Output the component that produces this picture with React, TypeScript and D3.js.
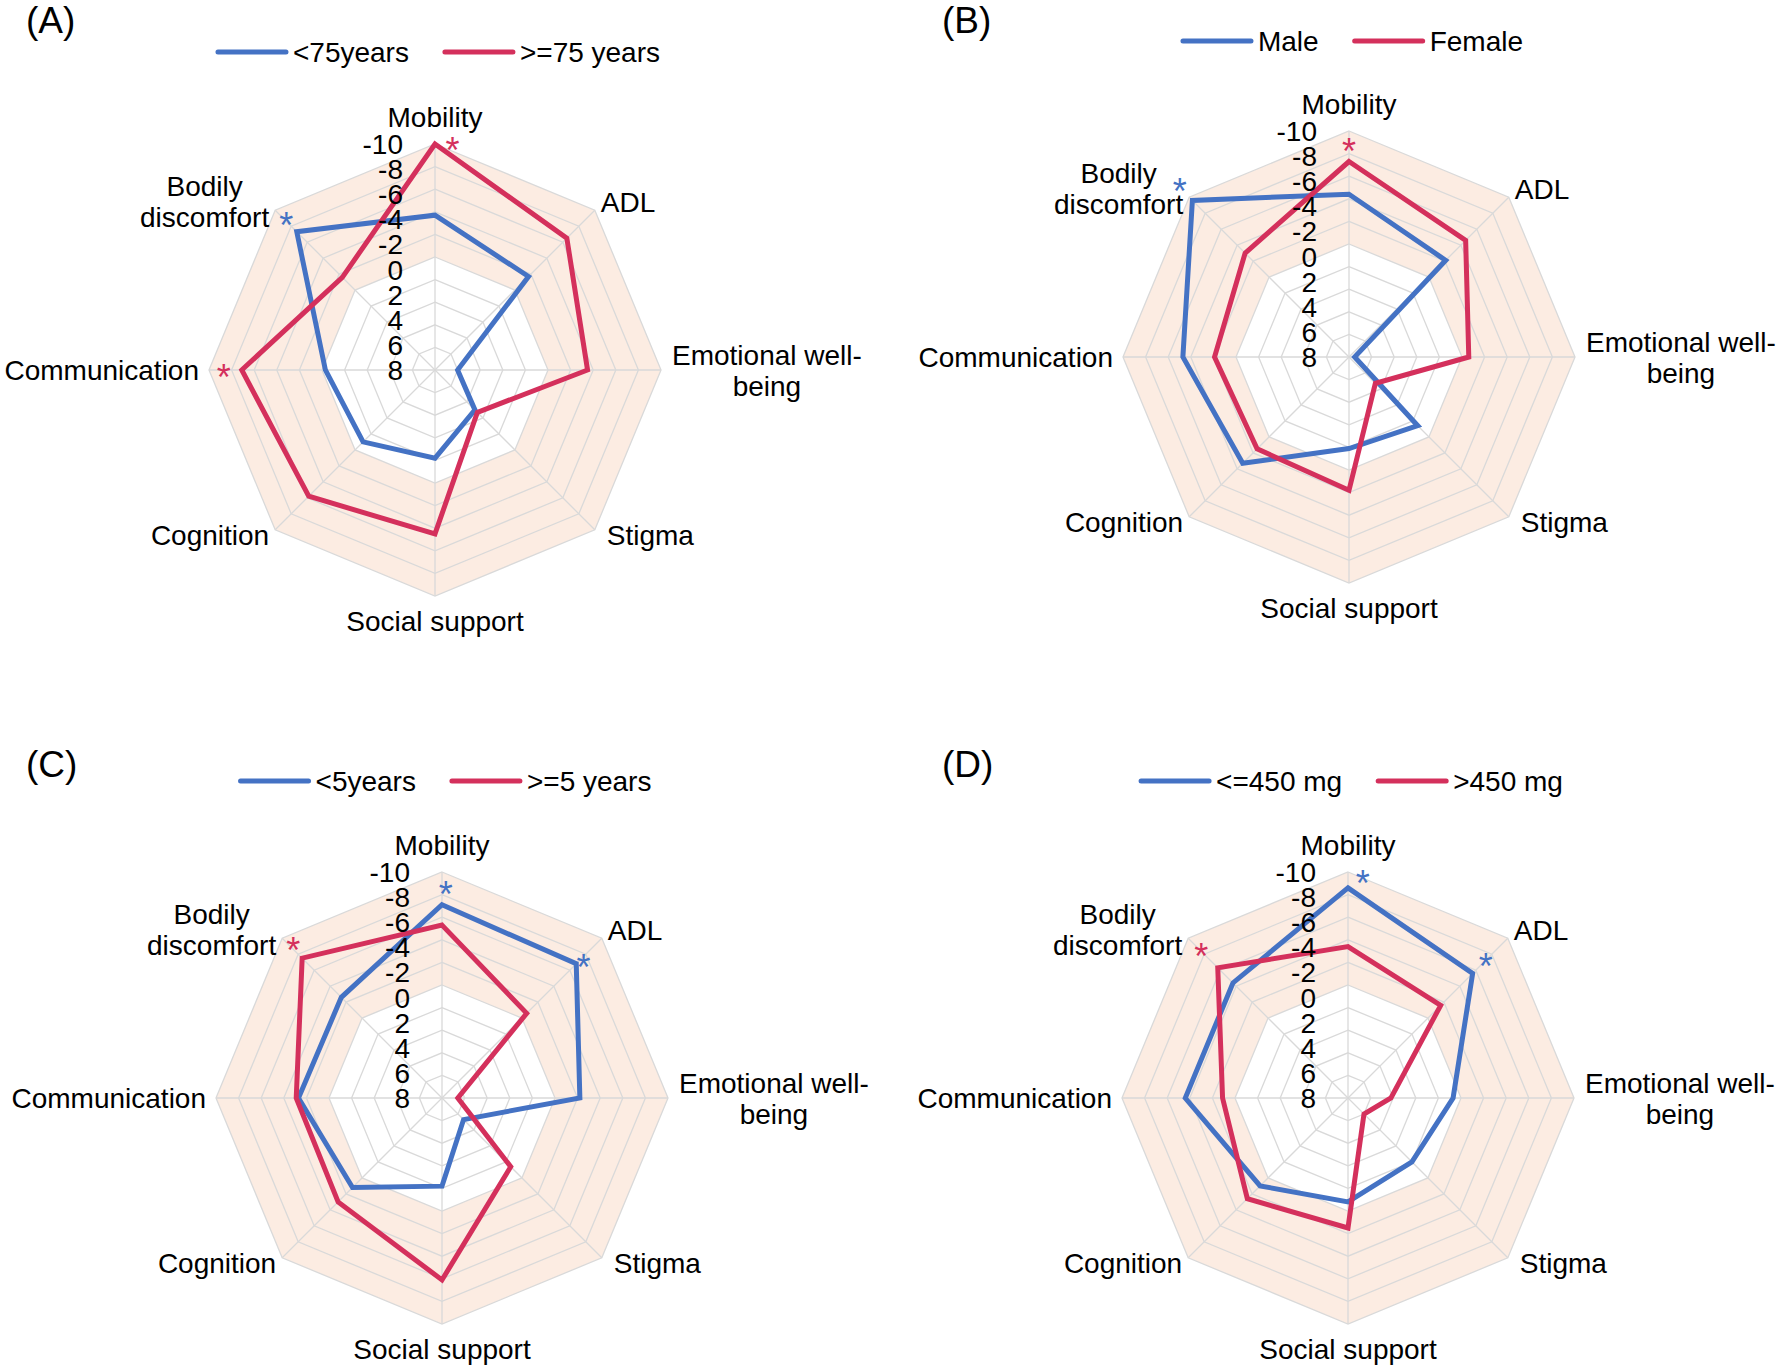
import React from 'react';
import * as d3 from 'd3';

// radar axes, clockwise from the top
const axes = ['Mobility', 'ADL', 'Emotional well-being', 'Stigma', 'Social support', 'Cognition', 'Communication', 'Bodily discomfort'];
const axisLabelLines = [['Mobility'], ['ADL'], ['Emotional well-', 'being'], ['Stigma'], ['Social support'], ['Cognition'], ['Communication'], ['Bodily', 'discomfort']];
const tickValues = [-10, -8, -6, -4, -2, 0, 2, 4, 6, 8];
const ringValues = [8, 6, 4, 2, 0, -2, -4, -6, -8, -10];

const panelLetters = ['(A)', '(B)', '(C)', '(D)'];
const seriesNames = [
  ['<75years', '>=75 years'],
  ['Male', 'Female'],
  ['<5years', '>=5 years'],
  ['<=450 mg', '>450 mg'],
];

// values per axis (same order as axes)
const ageUnder75 = [-3.7, -1.7, 8.0, 5.0, 2.2, 1.0, 0.3, -7.3];
const age75plus = [-10, -6.5, -3.5, 4.7, -4.5, -5.8, -7.1, -1.6];
const male = [-4.4, -2.1, 9.5, 1.4, 1.9, -3.3, -4.7, -9.6];
const female = [-7.3, -4.6, -0.6, 6.7, -1.8, -1.5, -1.9, -3.0];
const durUnder5 = [-7.1, -6.8, -2.2, 7.3, 2.2, -1.2, -2.7, -2.6];
const dur5plus = [-5.3, -0.6, 8.6, 1.4, -6.1, -3.0, -2.9, -7.5];
const doseLow = [-8.6, -5.6, 0.7, 2.0, 0.8, -1.0, -4.4, -4.4];
const doseHigh = [-3.4, -1.6, 6.2, 8.0, -1.5, -2.6, -1.1, -6.3];

const panelSeries = [
  [ageUnder75, age75plus],
  [male, female],
  [durUnder5, dur5plus],
  [doseLow, doseHigh],
];

// significance asterisks: axis index, series index, radial level, angular nudge (deg)
const starsA = [{ axis: 0, s: 1, level: -10.2, nudge: 4.4 }, { axis: 7, s: 0, level: -8.8, nudge: 0.6 }, { axis: 6, s: 1, level: -8.7, nudge: 0 }];
const starsB = [{ axis: 0, s: 1, level: -8.9, nudge: 0 }, { axis: 7, s: 0, level: -11.4, nudge: 0.6 }];
const starsC = [{ axis: 0, s: 0, level: -8.7, nudge: 1 }, { axis: 1, s: 0, level: -7.5, nudge: 0.7 }, { axis: 7, s: 1, level: -9.0, nudge: 1.1 }];
const starsD = [{ axis: 0, s: 0, level: -9.7, nudge: 3.8 }, { axis: 1, s: 0, level: -7.3, nudge: -0.2 }, { axis: 7, s: 1, level: -8.5, nudge: 0.4 }];
const panelStars = [starsA, starsB, starsC, starsD];

const W = 1778, H = 1371;
const R = 226;
const FONT = '"Liberation Sans", Arial, sans-serif';
const FS = 28;
const STAR_FS = 36;
const colors = ['#4472C4', '#D4305C'];
const fillColor = '#FCECE2';
const gridColor = '#D9D9D9';

const layout = [
  { cx: 435, cy: 370, legendY: 52, lx: 26, letterY: 23 },
  { cx: 1349, cy: 357, legendY: 41, lx: 942, letterY: 23 },
  { cx: 442, cy: 1098, legendY: 781, lx: 26, letterY: 767 },
  { cx: 1348, cy: 1098, legendY: 781, lx: 942, letterY: 767 },
];

const ctx = typeof document !== 'undefined' ? document.createElement('canvas').getContext('2d') : null;
function textW(s: string, size = FS) {
  if (!ctx) return s.length * size * 0.5;
  ctx.font = `${size}px "Liberation Sans"`;
  return ctx.measureText(s).width;
}

const rScale = d3.scaleLinear().domain([10, -10]).range([0, R]);
// the tick labels are spread evenly from the outer ring down to the centre
const tickScale = d3.scaleLinear().domain([-10, 8]).range([R, 0]);
const angle = d3.scaleLinear().domain([0, axes.length]).range([0, 2 * Math.PI]);

const radar = d3.lineRadial<number>()
  .angle((_, i) => angle(i))
  .radius(d => rScale(d))
  .curve(d3.curveLinearClosed);

const ring = (v: number) => radar(axes.map(() => v)) as string;

function Panel({ idx }: { idx: number }) {
  const { cx, cy, legendY, lx, letterY } = layout[idx];
  const series = panelSeries[idx];
  const names = seriesNames[idx];

  // legend
  const lineLen = 68, gapT = 7, gapItem = 36;
  const w1 = textW(names[0]), w2 = textW(names[1]);
  const total = lineLen + gapT + w1 + gapItem + lineLen + gapT + w2;
  const lx0 = cx + 4 - total / 2;
  const items = [
    { x: lx0, name: names[0], c: colors[0] },
    { x: lx0 + lineLen + gapT + w1 + gapItem, name: names[1], c: colors[1] },
  ];

  return (
    <g>
      <text x={lx} y={letterY + 10} fontSize={37} fontFamily={FONT}>{panelLetters[idx]}</text>
      {items.map((it, i) => (
        <g key={i}>
          <line x1={it.x} x2={it.x + lineLen} y1={legendY} y2={legendY} stroke={it.c} strokeWidth={5} strokeLinecap="round" />
          <text x={it.x + lineLen + gapT} y={legendY + 10} fontSize={FS} fontFamily={FONT}>{it.name}</text>
        </g>
      ))}
      <g transform={`translate(${cx},${cy})`}>
        <path d={ring(-10)} fill={fillColor} />
        <path d={ring(0)} fill="#fff" />
        {ringValues.map(v => (
          <path key={v} d={ring(v)} fill="none" stroke={gridColor} strokeWidth={1.3} />
        ))}
        {axes.map((_, i) => {
          const a = angle(i);
          return <line key={i} x1={0} y1={0} x2={R * Math.sin(a)} y2={-R * Math.cos(a)} stroke={gridColor} strokeWidth={1.3} />;
        })}
        {series.map((vals, s) => (
          <path key={s} d={radar(vals) as string} fill="none" stroke={colors[s]} strokeWidth={5} strokeLinejoin="miter" />
        ))}
        {tickValues.map(v => (
          <text key={v} x={-32} y={-tickScale(v) + 10} textAnchor="end" fontSize={FS} fontFamily={FONT}>{v}</text>
        ))}
        {axisLabelLines.map((lines, i) => {
          const a = angle(i);
          const sn = Math.sin(a), cs = Math.cos(a);
          const vx = R * sn, vy = -R * cs;
          const maxW = d3.max(lines, l => textW(l)) as number;
          let bx = vx, cyOff = 0;
          if (sn > 0.9) { bx = vx + 11 + maxW / 2; }
          else if (sn < -0.9) { bx = vx - 10 - maxW / 2; }
          else if (sn > 0.1) { bx = vx + (cs > 0 ? 6 : 12) + maxW / 2; cyOff = cs > 0 ? -8 : 5; }
          else if (sn < -0.1) { bx = vx - 6 - maxW / 2; cyOff = cs > 0 ? -9 : 5; }
          else { cyOff = cs > 0 ? -27 : 25; }
          const blockC = vy + cyOff;
          return (
            <g key={i}>
              {lines.map((l, j) => (
                <text key={j} x={bx} y={blockC + (j - (lines.length - 1) / 2) * 31 + 10} textAnchor="middle" fontSize={FS} fontFamily={FONT}>{l}</text>
              ))}
            </g>
          );
        })}
        {panelStars[idx].map((st, i) => {
          const a = angle(st.axis) + (st.nudge * Math.PI) / 180;
          const r = rScale(st.level);
          return (
            <text key={i} x={r * Math.sin(a)} y={-r * Math.cos(a) + STAR_FS * 0.56} textAnchor="middle" fontSize={STAR_FS} fontFamily={FONT} fill={colors[st.s]}>*</text>
          );
        })}
      </g>
    </g>
  );
}

export default function App() {
  return (
    <svg width={W} height={H} style={{ position: 'absolute', left: 0, top: 0, background: '#fff' }}>
      <rect width={W} height={H} fill="#fff" />
      {layout.map((_, i) => <Panel key={i} idx={i} />)}
    </svg>
  );
}
